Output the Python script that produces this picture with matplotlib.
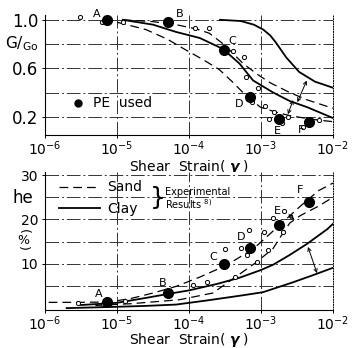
import matplotlib.pyplot as plt
import numpy as np

# --- PE (test) points, shared by both panels ---
pe_gamma = [7.2e-6, 5.1e-5, 3.1e-4, 7.0e-4, 1.75e-3, 4.6e-3]
pe_names = ["A", "B", "C", "D", "E", "F"]
pe_g = [1.0, 0.98, 0.75, 0.36, 0.18, 0.16]
pe_he = [1.3, 3.3, 10.0, 13.6, 18.7, 24.0]

# --- G/Go curves (log10 strain, ratio) ---
g_sand_hi_x = [-4.92, -4.5, -4.18, -3.9, -3.72, -3.5, -3.25, -3.05, -2.87, -2.6, -2.36, -2.0]
g_sand_hi_y = [1.0, 0.985, 0.96, 0.925, 0.89, 0.79, 0.64, 0.55, 0.48, 0.40, 0.34, 0.27]
g_sand_lo_x = [-5.0, -4.6, -4.3, -4.04, -3.8, -3.58, -3.4, -3.25, -3.01, -2.8, -2.6, -2.3, -2.0]
g_sand_lo_y = [0.98, 0.92, 0.84, 0.75, 0.67, 0.59, 0.49, 0.40, 0.28, 0.24, 0.21, 0.18, 0.16]
g_clay_lo_x = [-4.92, -4.5, -4.18, -3.85, -3.53, -3.3, -3.11, -2.83, -2.6, -2.36, -2.0]
g_clay_lo_y = [1.0, 0.96, 0.90, 0.85, 0.76, 0.64, 0.50, 0.40, 0.33, 0.28, 0.19]
g_clay_hi_x = [-3.57, -3.28, -3.1, -2.97, -2.87, -2.79, -2.65, -2.47, -2.25, -2.0]
g_clay_hi_y = [1.0, 0.99, 0.96, 0.92, 0.87, 0.81, 0.69, 0.57, 0.49, 0.44]

# experimental results (small open circles)
g_exp_x = [-5.51, -5.21, -4.92, -3.92, -3.72, -3.39, -3.24, -3.21, -3.04, -3.13,
           -2.94, -2.82, -2.89, -2.63, -2.71, -2.42, -2.19]
g_exp_y = [1.02, 0.98, 0.98, 0.93, 0.93, 0.74, 0.69, 0.53, 0.44, 0.32,
           0.29, 0.24, 0.18, 0.20, 0.15, 0.12, 0.17]

# --- damping curves (log10 strain, %) ---
h_sand_hi_x = [-5.95, -5.5, -5.1, -4.8, -4.5, -4.18, -3.85, -3.49, -3.11, -2.79, -2.46, -2.2, -2.0]
h_sand_hi_y = [1.3, 1.3, 1.4, 2.2, 3.4, 4.9, 7.0, 9.6, 13.3, 18.0, 22.9, 26.5, 28.2]
h_sand_lo_x = [-5.3, -4.8, -4.5, -4.13, -3.67, -3.39, -3.06, -2.83, -2.72, -2.6, -2.45, -2.2, -2.0]
h_sand_lo_y = [0.6, 1.0, 1.4, 1.9, 3.4, 6.6, 10.4, 13.5, 16.3, 19.2, 20.9, 23.0, 25.0]
h_clay_hi_x = [-5.5, -5.0, -4.6, -4.29, -4.0, -3.6, -3.29, -3.0, -2.83, -2.6, -2.36, -2.08, -2.0]
h_clay_hi_y = [0.7, 1.2, 2.3, 3.2, 4.0, 5.5, 6.9, 8.6, 9.8, 12.0, 14.5, 17.8, 19.0]
h_clay_lo_x = [-5.7, -5.0, -4.6, -4.18, -3.72, -3.25, -2.97, -2.56, -2.3, -2.0]
h_clay_lo_y = [0.0, 0.3, 0.5, 0.8, 1.8, 2.9, 3.6, 5.8, 7.3, 9.1]

h_exp_x = [-5.54, -5.19, -4.89, -3.94, -3.75, -3.36, -3.50, -3.28, -3.19, -3.06,
           -2.90, -2.96, -2.83, -2.68, -2.69, -3.17]
h_exp_y = [1.1, 0.9, 1.6, 5.3, 6.0, 7.1, 13.3, 13.6, 12.0, 10.4,
           13.1, 17.1, 20.4, 21.8, 17.1, 17.6]

xticks = [1e-6, 1e-5, 1e-4, 1e-3, 1e-2]
xticklabels = [r"$10^{-6}$", r"$10^{-5}$", r"$10^{-4}$", r"$10^{-3}$", r"$10^{-2}$"]

# label offsets in pixels
top_off = [(-10, 6), (12, 8), (8, 9), (-11, -7), (-1, -12), (-8, -8)]
bot_off = [(-8, 8), (-5, 10), (-11, 7), (-9, 11), (-1, 14), (-9, 12)]

grid_kw = dict(color="0.2", lw=0.7, ls=(0, (14, 3, 2, 3)), zorder=0)


def lg(v):
    return [10.0 ** e for e in v]


def style_axis(ax, labelpad=0):
    ax.set_xscale("log")
    ax.set_xlim(1e-6, 1e-2)
    ax.set_xticks(xticks)
    ax.set_xticklabels(xticklabels, fontsize=10)
    ax.minorticks_off()
    ax.spines["top"].set_visible(False)
    ax.spines["right"].set_linestyle(":")
    ax.spines["right"].set_linewidth(0.7)
    ax.tick_params(axis="x", length=2, width=0.7, pad=1)
    ax.tick_params(axis="y", length=2, width=0.7, pad=3)
    for x in xticks[1:4]:
        ax.axvline(x, **grid_kw)
    ax.set_xlabel(r"Shear  Strain( $\boldsymbol{\gamma}$ )", fontsize=10, labelpad=labelpad)


fig = plt.figure(figsize=(3.52, 3.48), dpi=100)

# ---------------- top panel: G/Go ----------------
ax1 = fig.add_axes([0.128, 0.612, 0.818, 0.345])
style_axis(ax1)
ax1.set_ylim(0.05, 1.04)
ax1.set_yticks([0.2, 0.6, 1.0])
ax1.set_yticklabels(["0.2", "0.6", "1.0"], fontsize=12)
for y in [0.4, 0.6, 0.8, 0.2, 1.0]:
    ax1.axhline(y, **grid_kw)

ax1.plot(lg(g_sand_hi_x), g_sand_hi_y, "k", lw=0.9, ls=(0, (7, 4)))
ax1.plot(lg(g_sand_lo_x), g_sand_lo_y, "k", lw=0.9, ls=(0, (7, 4)))
ax1.plot(lg(g_clay_lo_x), g_clay_lo_y, "k", lw=1.3)
ax1.plot(lg(g_clay_hi_x), g_clay_hi_y, "k", lw=1.3)
ax1.plot(lg(g_exp_x), g_exp_y, "o", mfc="white", mec="k", ms=3, mew=0.7)
ax1.plot(pe_gamma, pe_g, "o", color="k", ms=7, zorder=5)
for gx, gy, n, off in zip(pe_gamma, pe_g, pe_names, top_off):
    ax1.annotate(n, (gx, gy), xytext=off, textcoords="offset pixels",
                 ha="center", va="center", fontsize=8)

arrow_kw = dict(arrowstyle="<->", color="k", lw=0.7, mutation_scale=6)
ax1.annotate("", xy=(10 ** -2.54, 0.36), xytext=(10 ** -2.64, 0.20), arrowprops=arrow_kw)
ax1.annotate("", xy=(10 ** -2.35, 0.52), xytext=(10 ** -2.51, 0.30), arrowprops=arrow_kw)

ax1.plot([0.115], [0.27], "o", color="k", ms=5, transform=ax1.transAxes, clip_on=False)
ax1.text(0.165, 0.27, "PE  used", fontsize=10, va="center", transform=ax1.transAxes)

# G/Go axis title, written as in the figure
fig.text(0.062, 0.876, r"$\mathregular{G/_{Go}}$", fontsize=11, ha="center", va="center")

# ---------------- bottom panel: damping ----------------
ax2 = fig.add_axes([0.128, 0.109, 0.818, 0.3964])
style_axis(ax2, labelpad=-1)
ax2.set_ylim(-0.44, 30.67)
ax2.set_yticks([10, 20, 30])
ax2.set_yticklabels(["10", "20", "30"], fontsize=10)
for y in [5, 10, 15, 20, 25, 30]:
    ax2.axhline(y, **grid_kw)

ax2.plot(lg(h_sand_hi_x), h_sand_hi_y, "k", lw=0.9, ls=(0, (7, 4)))
ax2.plot(lg(h_sand_lo_x), h_sand_lo_y, "k", lw=0.9, ls=(0, (7, 4)))
ax2.plot(lg(h_clay_hi_x), h_clay_hi_y, "k", lw=1.3)
ax2.plot(lg(h_clay_lo_x), h_clay_lo_y, "k", lw=1.3)
ax2.plot(lg(h_exp_x), h_exp_y, "o", mfc="white", mec="k", ms=3, mew=0.7)
ax2.plot(pe_gamma, pe_he, "o", color="k", ms=7, zorder=5)
for gx, gy, n, off in zip(pe_gamma, pe_he, pe_names, bot_off):
    ax2.annotate(n, (gx, gy), xytext=off, textcoords="offset pixels",
                 ha="center", va="center", fontsize=8)

ax2.annotate("", xy=(10 ** -2.51, 19.6), xytext=(10 ** -2.65, 21.6), arrowprops=arrow_kw)
ax2.annotate("", xy=(10 ** -2.21, 7.3), xytext=(10 ** -2.36, 14.4), arrowprops=arrow_kw)

# hand-drawn style legend
ax2.plot([0.05, 0.19], [0.895, 0.895], "k", lw=0.9, ls=(0, (7, 4)), transform=ax2.transAxes)
ax2.plot([0.05, 0.19], [0.74, 0.74], "k", lw=1.3, transform=ax2.transAxes)
ax2.text(0.215, 0.895, "Sand", fontsize=10, va="center", transform=ax2.transAxes)
ax2.text(0.215, 0.735, "Clay", fontsize=10, va="center", transform=ax2.transAxes)
ax2.text(0.365, 0.815, "}", fontsize=18, va="center", transform=ax2.transAxes)
ax2.text(0.415, 0.855, "Experimental", fontsize=7, va="center", transform=ax2.transAxes)
ax2.text(0.415, 0.765, r"Results $^{8)}$", fontsize=7, va="center", transform=ax2.transAxes)

fig.text(0.065, 0.43, "he", fontsize=12, ha="center", va="center")
fig.text(0.065, 0.335, "(", fontsize=9, ha="center", va="center", rotation=-90)
fig.text(0.065, 0.31, "%", fontsize=9, ha="center", va="center")
fig.text(0.065, 0.285, ")", fontsize=9, ha="center", va="center", rotation=-90)

fig.savefig("out.png", dpi=100)
